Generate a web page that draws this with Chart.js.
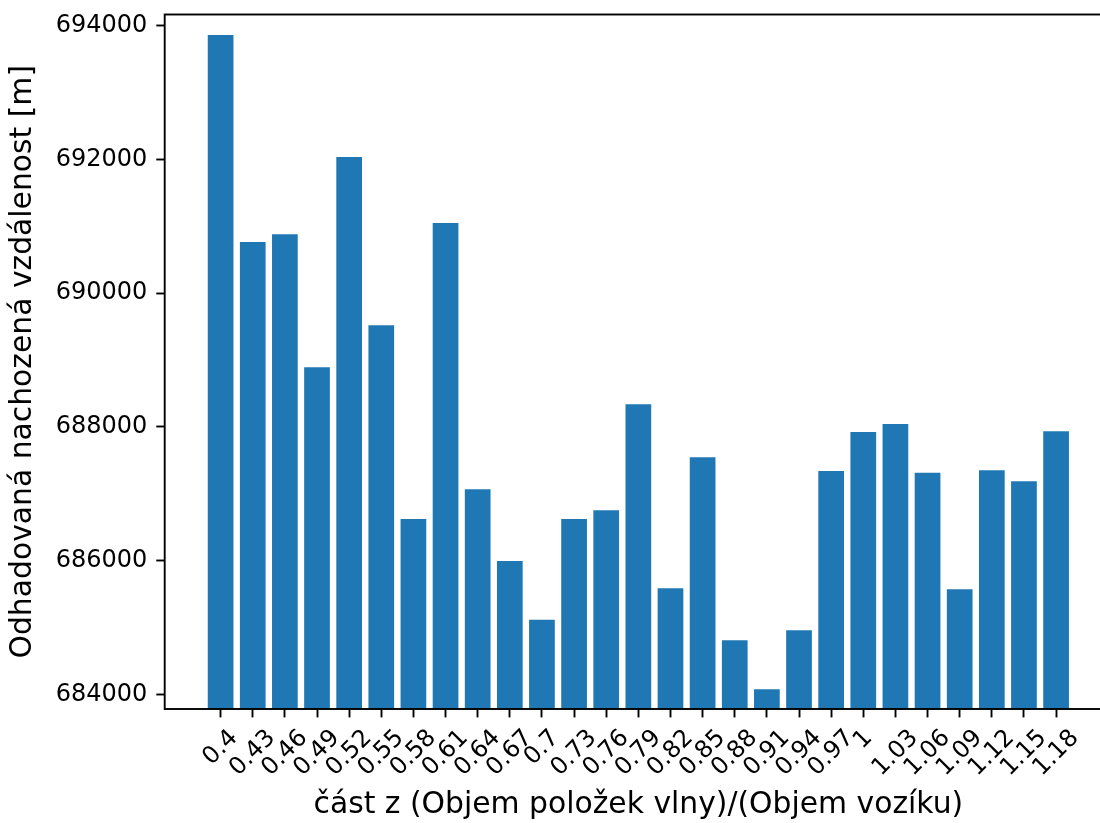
<!DOCTYPE html>
<html>
<head>
<meta charset="utf-8">
<script src="https://cdn.jsdelivr.net/npm/chart.js@4.4.1/dist/chart.umd.min.js"></script>
<style>
  html, body { margin: 0; padding: 0; background: #fff; overflow: hidden; width: 1100px; height: 823px; }
  #wrap { width: 1100px; height: 823px; overflow: hidden; position: relative; }
  canvas { display: block; }
</style>
</head>
<body>
<div id="wrap"><canvas id="chart" width="1124" height="823"></canvas></div>
<script>
// Share of wave item volume in cart volume
const categories = [0.4, 0.43, 0.46, 0.49, 0.52, 0.55, 0.58, 0.61, 0.64, 0.67, 0.7, 0.73, 0.76, 0.79,
                    0.82, 0.85, 0.88, 0.91, 0.94, 0.97, 1, 1.03, 1.06, 1.09, 1.12, 1.15, 1.18];
const tickLabels = ['0.4', '0.43', '0.46', '0.49', '0.52', '0.55', '0.58', '0.61', '0.64', '0.67', '0.7',
                    '0.73', '0.76', '0.79', '0.82', '0.85', '0.88', '0.91', '0.94', '0.97', '1', '1.03',
                    '1.06', '1.09', '1.12', '1.15', '1.18'];
// Estimated walked distance [m]
const distances = [693861, 690765, 690880, 688891, 692036, 689519, 686622, 691049, 687066, 685994,
                   685116, 686622, 686752, 688337, 685585, 687545, 684808, 684075, 684957, 687340,
                   687923, 688043, 687315, 685570, 687350, 687186, 687934];
const yTicks = [684000, 686000, 688000, 690000, 692000, 694000];
const yTickLabels = ['684000', '686000', '688000', '690000', '692000', '694000'];

const FONT = '"DejaVu Sans", sans-serif';
const TICK_FONT = 24;
const TITLE_FONT = 29.8;
const TICK_LEN = 8.4;
const LINE_W = 1.9;

// x range: bar extent plus 5 % margin on both sides
const halfBar = 0.012;
const xLo = categories[0] - halfBar;
const xHi = categories[categories.length - 1] + halfBar;
const xPad = 0.05 * (xHi - xLo);

// Frame around the plotting area
const framePlugin = {
  id: 'frame',
  afterDraw(chart) {
    const { ctx, chartArea: a } = chart;
    ctx.save();
    ctx.strokeStyle = '#000';
    ctx.lineWidth = LINE_W;
    ctx.lineCap = 'square';
    ctx.strokeRect(a.left, a.top, a.right - a.left, a.bottom - a.top);
    ctx.restore();
  }
};

// Rotated x tick labels, centred under their tick
const xTickLabelPlugin = {
  id: 'xTickLabels',
  afterDraw(chart) {
    const { ctx, chartArea, scales: { x } } = chart;
    ctx.save();
    ctx.font = `${TICK_FONT}px ${FONT}`;
    ctx.fillStyle = '#000';
    ctx.textAlign = 'center';
    ctx.textBaseline = 'alphabetic';
    const top = chartArea.bottom + TICK_LEN + 8.4;
    const h = 0.996 * TICK_FONT;
    categories.forEach((c, i) => {
      const label = tickLabels[i];
      const w = ctx.measureText(label).width;
      const d = (w + h) * Math.SQRT1_2;
      const px = x.getPixelForValue(c);
      ctx.save();
      ctx.translate(px, top + d / 2);
      ctx.rotate(-Math.PI / 4);
      ctx.fillText(label, 0, 0.262 * TICK_FONT);
      ctx.restore();
    });
    ctx.restore();
  }
};

new Chart(document.getElementById('chart'), {
  type: 'bar',
  data: {
    datasets: [{
      data: categories.map((c, i) => ({ x: c, y: distances[i] })),
      backgroundColor: '#1f77b4',
      borderWidth: 0,
      barPercentage: 0.8,
      categoryPercentage: 1.0
    }]
  },
  options: {
    responsive: false,
    animation: false,
    devicePixelRatio: 1,
    layout: { padding: { top: 14.5, right: 12, left: 0, bottom: 0 } },
    plugins: { legend: { display: false }, tooltip: { enabled: false } },
    scales: {
      x: {
        type: 'linear',
        offset: false,
        min: xLo - xPad,
        max: xHi + xPad,
        afterBuildTicks: (scale) => { scale.ticks = categories.map(v => ({ value: v })); },
        afterFit: (scale) => {
          scale.height = 114;
          scale.paddingLeft = 0; scale.paddingRight = 0;
          scale.paddingTop = 0; scale.paddingBottom = 0;
        },
        ticks: { display: false },
        grid: {
          display: true, drawOnChartArea: false, drawTicks: true, offset: false,
          tickLength: TICK_LEN, tickWidth: LINE_W, tickColor: '#000', color: '#000'
        },
        border: { display: false },
        title: {
          display: true,
          text: 'část z (Objem položek vlny)/(Objem vozíku)',
          color: '#000',
          font: { family: FONT, size: TITLE_FONT },
          padding: { top: 0, bottom: 0 }
        }
      },
      y: {
        min: 683780,
        max: 694168,
        afterBuildTicks: (scale) => { scale.ticks = yTicks.map(v => ({ value: v })); },
        afterFit: (scale) => {
          scale.width = 164.7;
          scale.paddingLeft = 0; scale.paddingRight = 0;
          scale.paddingTop = 0; scale.paddingBottom = 0;
        },
        ticks: {
          autoSkip: false,
          color: '#000',
          padding: 9,
          font: { family: FONT, size: TICK_FONT },
          callback: (v, i) => yTickLabels[i]
        },
        grid: {
          display: true, drawOnChartArea: false, drawTicks: true,
          tickLength: TICK_LEN, tickWidth: LINE_W, tickColor: '#000', color: '#000'
        },
        border: { display: false },
        title: {
          display: true,
          text: 'Odhadovaná nachozená vzdálenost [m]',
          color: '#000',
          font: { family: FONT, size: TITLE_FONT },
          padding: { top: 5, bottom: 0 }
        }
      }
    }
  },
  plugins: [framePlugin, xTickLabelPlugin]
});
</script>
</body>
</html>
